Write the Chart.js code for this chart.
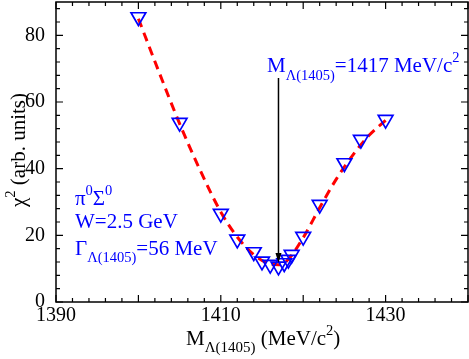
<!DOCTYPE html>
<html>
<head>
<meta charset="utf-8">
<script src="https://cdn.jsdelivr.net/npm/chart.js@4"></script>
<style>
  html, body { margin: 0; padding: 0; background: #fff; }
  #wrap { width: 469px; height: 359px; }
</style>
</head>
<body>
<div id="wrap"><canvas id="chi2"></canvas></div>
<script>
// chi2 scan vs Lambda(1405) mass
var masses = [1400, 1405, 1410, 1412, 1414, 1415, 1416, 1417, 1417.7, 1418.2, 1418.6, 1420, 1422, 1425, 1427, 1430];
var chi2 = [85.5, 53.8, 26.5, 18.8, 15.0, 12.2, 11.2, 10.7, 11.7, 12.7, 14.2, 19.6, 29.2, 41.7, 48.7, 54.7];

// dashed fit curve
var fitMasses = [1400, 1402.5, 1405, 1407.5, 1410, 1412, 1414, 1416, 1417, 1418, 1420, 1422, 1424, 1426, 1428, 1430];
var fitChi2 = [85, 69, 53.5, 39.5, 27, 19.5, 14.2, 11.4, 11.2, 12.3, 19.3, 28.3, 36.8, 44, 50, 54.5];

var xTicks = [1390, 1410, 1430];
var yTicks = [0, 20, 40, 60, 80];

var bestMass = 1417;
var arrowTop = 67.2, arrowTip = 11.7;

var FONT = '"Liberation Serif", "Times New Roman", serif';
var BLUE = '#0000ff';

function pts(xs, ys) {
    var out = [];
    for (var i = 0; i < xs.length; i++) out.push({x: xs[i], y: ys[i]});
    return out;
}

// text with sub/superscripts, parts = [text, size, dy]
function richWidth(ctx, parts) {
    var w = 0;
    parts.forEach(function (p) {
        ctx.font = p[1] + 'px ' + FONT;
        w += ctx.measureText(p[0]).width;
    });
    return w;
}
function drawRich(ctx, parts, x, y, color) {
    ctx.fillStyle = color;
    ctx.textBaseline = 'alphabetic';
    ctx.textAlign = 'left';
    parts.forEach(function (p) {
        ctx.font = p[1] + 'px ' + FONT;
        ctx.fillText(p[0], x, y + p[2]);
        x += ctx.measureText(p[0]).width;
    });
}

var framePlugin = {
    id: 'frame',
    afterDraw: function (chart) {
        var ctx = chart.ctx;
        var a = chart.chartArea;
        var xs = chart.scales.x, ys = chart.scales.y;
        ctx.save();
        ctx.strokeStyle = '#000';
        ctx.lineWidth = 1.5;
        ctx.strokeRect(a.left, a.top, a.right - a.left, a.bottom - a.top);

        // inward ticks, all four sides
        ctx.lineWidth = 1.2;
        ctx.beginPath();
        for (var v = 1390; v <= 1440; v += 2) {
            var px = xs.getPixelForValue(v);
            var len = (v % 10 === 0) ? 7 : 4;
            ctx.moveTo(px, a.bottom); ctx.lineTo(px, a.bottom - len);
            ctx.moveTo(px, a.top); ctx.lineTo(px, a.top + len);
        }
        for (var u = 0; u <= 90; u += 4) {
            var py = ys.getPixelForValue(u);
            var l2 = (u % 20 === 0) ? 7 : 4;
            ctx.moveTo(a.left, py); ctx.lineTo(a.left + l2, py);
            ctx.moveTo(a.right, py); ctx.lineTo(a.right - l2, py);
        }
        ctx.stroke();

        // x tick labels
        ctx.fillStyle = '#000';
        ctx.font = '20px ' + FONT;
        ctx.textAlign = 'center';
        ctx.textBaseline = 'alphabetic';
        xTicks.forEach(function (t) {
            ctx.fillText(String(t), xs.getPixelForValue(t), a.bottom + 19);
        });

        // arrow at best mass
        var ax = xs.getPixelForValue(bestMass);
        var y0 = ys.getPixelForValue(arrowTop), y1 = ys.getPixelForValue(arrowTip);
        ctx.lineWidth = 1.5;
        ctx.beginPath();
        ctx.moveTo(ax, y0); ctx.lineTo(ax, y1 - 6);
        ctx.stroke();
        ctx.beginPath();
        ctx.moveTo(ax, y1); ctx.lineTo(ax - 3, y1 - 10); ctx.lineTo(ax + 3, y1 - 10);
        ctx.closePath();
        ctx.fill();

        // annotations
        drawRich(ctx, [['M', 21, 0], ['\u039b(1405)', 14.5, 8], ['=1417 MeV/c', 21, 0], ['2', 14.5, -10]], 267, 72, BLUE);
        drawRich(ctx, [['\u03c0', 21, 0], ['0', 14.5, -10], ['\u03a3', 21, 0], ['0', 14.5, -10]], 75, 205, BLUE);
        drawRich(ctx, [['W=2.5 GeV', 21, 0]], 75, 228, BLUE);
        drawRich(ctx, [['\u0393', 21, 0], ['\u039b(1405)', 14.5, 7], ['=56 MeV', 21, 0]], 75, 255, BLUE);

        // x title
        var xt = [['M', 21, 0], ['\u039b(1405)', 15, 7], [' (MeV/c', 21, 0], ['2', 14.5, -10], [')', 21, 0]];
        drawRich(ctx, xt, 186, 345, '#000');

        // y title
        var yt = [['\u03c7', 21, 0], ['2', 14.5, -10], [' (arb. units)', 21, 0]];
        var wy = richWidth(ctx, yt);
        ctx.translate(25, 150);
        ctx.rotate(-Math.PI / 2);
        drawRich(ctx, yt, -wy / 2, 0, '#000');
        ctx.restore();
    }
};

var ctx = document.getElementById('chi2').getContext('2d');
var chart = new Chart(ctx, {
    type: 'scatter',
    data: {
        datasets: [{
            type: 'line',
            data: pts(fitMasses, fitChi2),
            borderColor: '#ff0000',
            borderWidth: 3,
            borderDash: [9, 6],
            cubicInterpolationMode: 'monotone',
            pointRadius: 0,
            fill: false,
            order: 2
        }, {
            data: pts(masses, chi2),
            pointStyle: 'triangle',
            rotation: 180,
            pointRadius: 8.5,
            pointHoverRadius: 8.5,
            borderColor: BLUE,
            borderWidth: 1.7,
            backgroundColor: 'rgba(0,0,0,0)',
            order: 1
        }]
    },
    options: {
        responsive: true,
        maintainAspectRatio: false,
        animation: false,
        layout: { autoPadding: false, padding: { left: 0, top: 2, right: 1, bottom: 0 } },
        plugins: { legend: { display: false }, tooltip: { enabled: false } },
        scales: {
            x: {
                type: 'linear',
                min: 1390,
                max: 1440,
                grid: { display: false },
                border: { display: false },
                afterFit: function (s) { s.height = 57; s.paddingLeft = 0; s.paddingRight = 0; },
                afterBuildTicks: function (s) { s.ticks = xTicks.map(function (v) { return {value: v}; }); },
                ticks: { display: false }
            },
            y: {
                min: 0,
                max: 90,
                grid: { display: false },
                border: { display: false },
                afterFit: function (s) { s.width = 56; s.paddingTop = 0; s.paddingBottom = 0; },
                afterBuildTicks: function (s) { s.ticks = yTicks.map(function (v) { return {value: v}; }); },
                ticks: {
                    padding: 3,
                    color: '#000',
                    font: { family: FONT, size: 20 },
                    callback: function (v) { return String(v); }
                }
            }
        }
    },
    plugins: [framePlugin]
});
</script>
</body>
</html>
